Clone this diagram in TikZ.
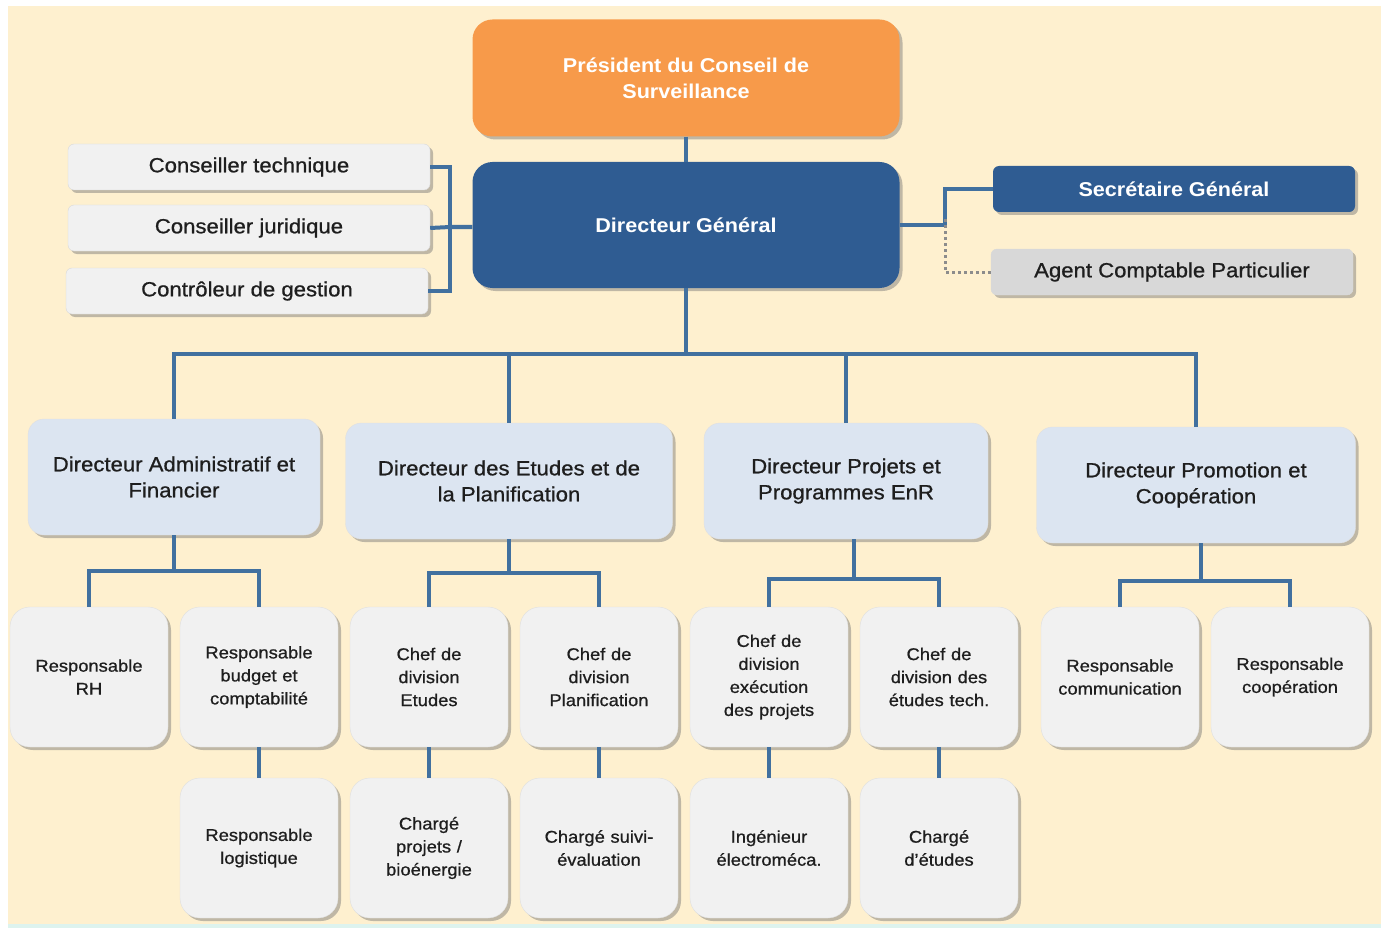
\documentclass[tikz,border=0pt]{standalone}
\usepackage{fontspec}
\setmainfont{Liberation Sans}[FakeStretch=1.08]
\newfontfamily\semib{Liberation Sans}[FakeStretch=1.08, FakeBold=0.8]
\usetikzlibrary{shadows}
\definecolor{cream}{HTML}{FEF0CF}
\definecolor{orangebox}{HTML}{F79A4A}
\definecolor{darkblue}{HTML}{2F5C92}
\definecolor{lightblue}{HTML}{DCE5F1}
\definecolor{greybox}{HTML}{F1F1F1}
\definecolor{agentgrey}{HTML}{D8D8D8}
\definecolor{linkblue}{HTML}{41709F}
\definecolor{txt}{HTML}{1E1E1E}
\definecolor{cyanstrip}{HTML}{DDF3EE}
\tikzset{
  x=1pt, y=-1pt,
  sh/.style={drop shadow={shadow xshift=3pt, shadow yshift=-3pt, fill=black!55, opacity=0.45}},
  topbox/.style={sh, rounded corners=20pt, draw=none, minimum width=427pt, align=center,
     text=white, font=\fontsize{20}{26}\selectfont\bfseries},
  sidebox/.style={sh, rounded corners=6pt, fill=greybox, draw=black!15, minimum width=362pt,
     minimum height=46pt, text=txt, font=\semib\fontsize{20.5}{24}\selectfont},
  rightbox/.style={sh, rounded corners=6pt, minimum width=362pt, minimum height=46pt},
  dirbox/.style={sh, rounded corners=16pt, fill=lightblue, draw=black!12, minimum height=116pt,
     align=center, text=txt, font=\semib\fontsize{20.5}{26}\selectfont},
  unitbox/.style={sh, rounded corners=20pt, fill=greybox, draw=black!12, minimum width=158pt,
     minimum height=140pt, text width=150pt, align=center, text=txt,
     font=\semib\fontsize{17}{23}\selectfont},
  link/.style={draw=linkblue, line width=4pt},
  dotlink/.style={draw=black!45, line width=3pt, dash pattern=on 3pt off 3pt}
}
\begin{document}
\begin{tikzpicture}
\fill[white] (0,0) rectangle (1381,928);
\fill[cream] (8,6) rectangle (1381,924);
\fill[cyanstrip] (8,924) rectangle (1381,928);
\useasboundingbox (0,0) rectangle (1381,928);

% top
\node[topbox, fill=orangebox, minimum height=117pt] (pcs) at (686,78) {Président du Conseil de\\Surveillance};
\node[topbox, fill=darkblue, minimum height=126pt] (dg) at (686,225) {Directeur Général};

% left advisers
\node[sidebox] (ct) at (249,167) {Conseiller technique};
\node[sidebox] (cj) at (249,228) {Conseiller juridique};
\node[sidebox] (cg) at (247,291) {Contrôleur de gestion};

% right
\node[rightbox, fill=darkblue, text=white, font=\fontsize{20}{24}\selectfont\bfseries] (sg) at (1174,189) {Secrétaire Général};
\node[rightbox, fill=agentgrey, draw=black!15, text=txt, font=\semib\fontsize{20.5}{24}\selectfont] (acp) at (1172,272) {Agent Comptable Particulier};

% directors
\node[dirbox, minimum width=292pt] (daf) at (174,477) {Directeur Administratif et\\Financier};
\node[dirbox, minimum width=327pt] (dep) at (509,481) {Directeur des Etudes et de\\la Planification};
\node[dirbox, minimum width=284pt] (dpp) at (846,481) {Directeur Projets et\\Programmes EnR};
\node[dirbox, minimum width=319pt] (dpc) at (1196,485) {Directeur Promotion et\\Coopération};

% level 3
\node[unitbox] (rh) at (89,677) {Responsable\\RH\\[23pt]};
\node[unitbox] (bud) at (259,677) {Responsable\\budget et\\comptabilité};
\node[unitbox] (cde) at (429,677) {Chef de\\division\\Etudes};
\node[unitbox] (cdp) at (599,677) {Chef de\\division\\Planification};
\node[unitbox] (cdx) at (769,677) {Chef de\\division\\exécution\\des projets};
\node[unitbox] (cdt) at (939,677) {Chef de\\division des\\études tech.};
\node[unitbox] (rc) at (1120,677) {Responsable\\communication\\[23pt]};
\node[unitbox] (rco) at (1290,677) {Responsable\\coopération\\[23pt]};

% level 4
\node[unitbox] (rl) at (259,848) {Responsable\\logistique};
\node[unitbox] (cpb) at (429,848) {Chargé\\projets /\\bioénergie};
\node[unitbox] (cse) at (599,848) {Chargé suivi-\\évaluation};
\node[unitbox] (ie) at (769,848) {Ingénieur\\électroméca.};
\node[unitbox] (ced) at (939,848) {Chargé\\d’études};

% connectors
\draw[link] (pcs.south) -- (dg.north);

\coordinate (lj) at (450,227);
\draw[link] (ct.east) -| (lj);
\draw[link] (cg.east) -| (lj);
\draw[link] (cj.east) -- (lj) -- (dg.west |- lj);

\coordinate (rj) at (945,225);
\draw[link] (dg.east |- rj) -- (rj) |- (sg.west);
\draw[dotlink] ([yshift=6pt]rj) |- (acp.west);

\coordinate (bus) at (686,354);
\draw[link] (dg.south) -- (bus);
\draw[link] (bus) -| (daf.north);
\draw[link] (bus) -| (dep.north);
\draw[link] (bus) -| (dpp.north);
\draw[link] (bus) -| (dpc.north);

\coordinate (b1) at (174,571);
\draw[link] (daf.south) -- (b1);
\draw[link] (b1) -| (rh.north);
\draw[link] (b1) -| (bud.north);

\coordinate (b2) at (509,573);
\draw[link] (dep.south) -- (b2);
\draw[link] (b2) -| (cde.north);
\draw[link] (b2) -| (cdp.north);

\coordinate (b3) at (854,579);
\draw[link] (dpp.south -| b3) -- (b3);
\draw[link] (b3) -| (cdx.north);
\draw[link] (b3) -| (cdt.north);

\coordinate (b4) at (1201,581);
\draw[link] (dpc.south -| b4) -- (b4);
\draw[link] (b4) -| (rc.north);
\draw[link] (b4) -| (rco.north);

\draw[link] (bud.south) -- (rl.north);
\draw[link] (cde.south) -- (cpb.north);
\draw[link] (cdp.south) -- (cse.north);
\draw[link] (cdx.south) -- (ie.north);
\draw[link] (cdt.south) -- (ced.north);
\end{tikzpicture}
\end{document}
